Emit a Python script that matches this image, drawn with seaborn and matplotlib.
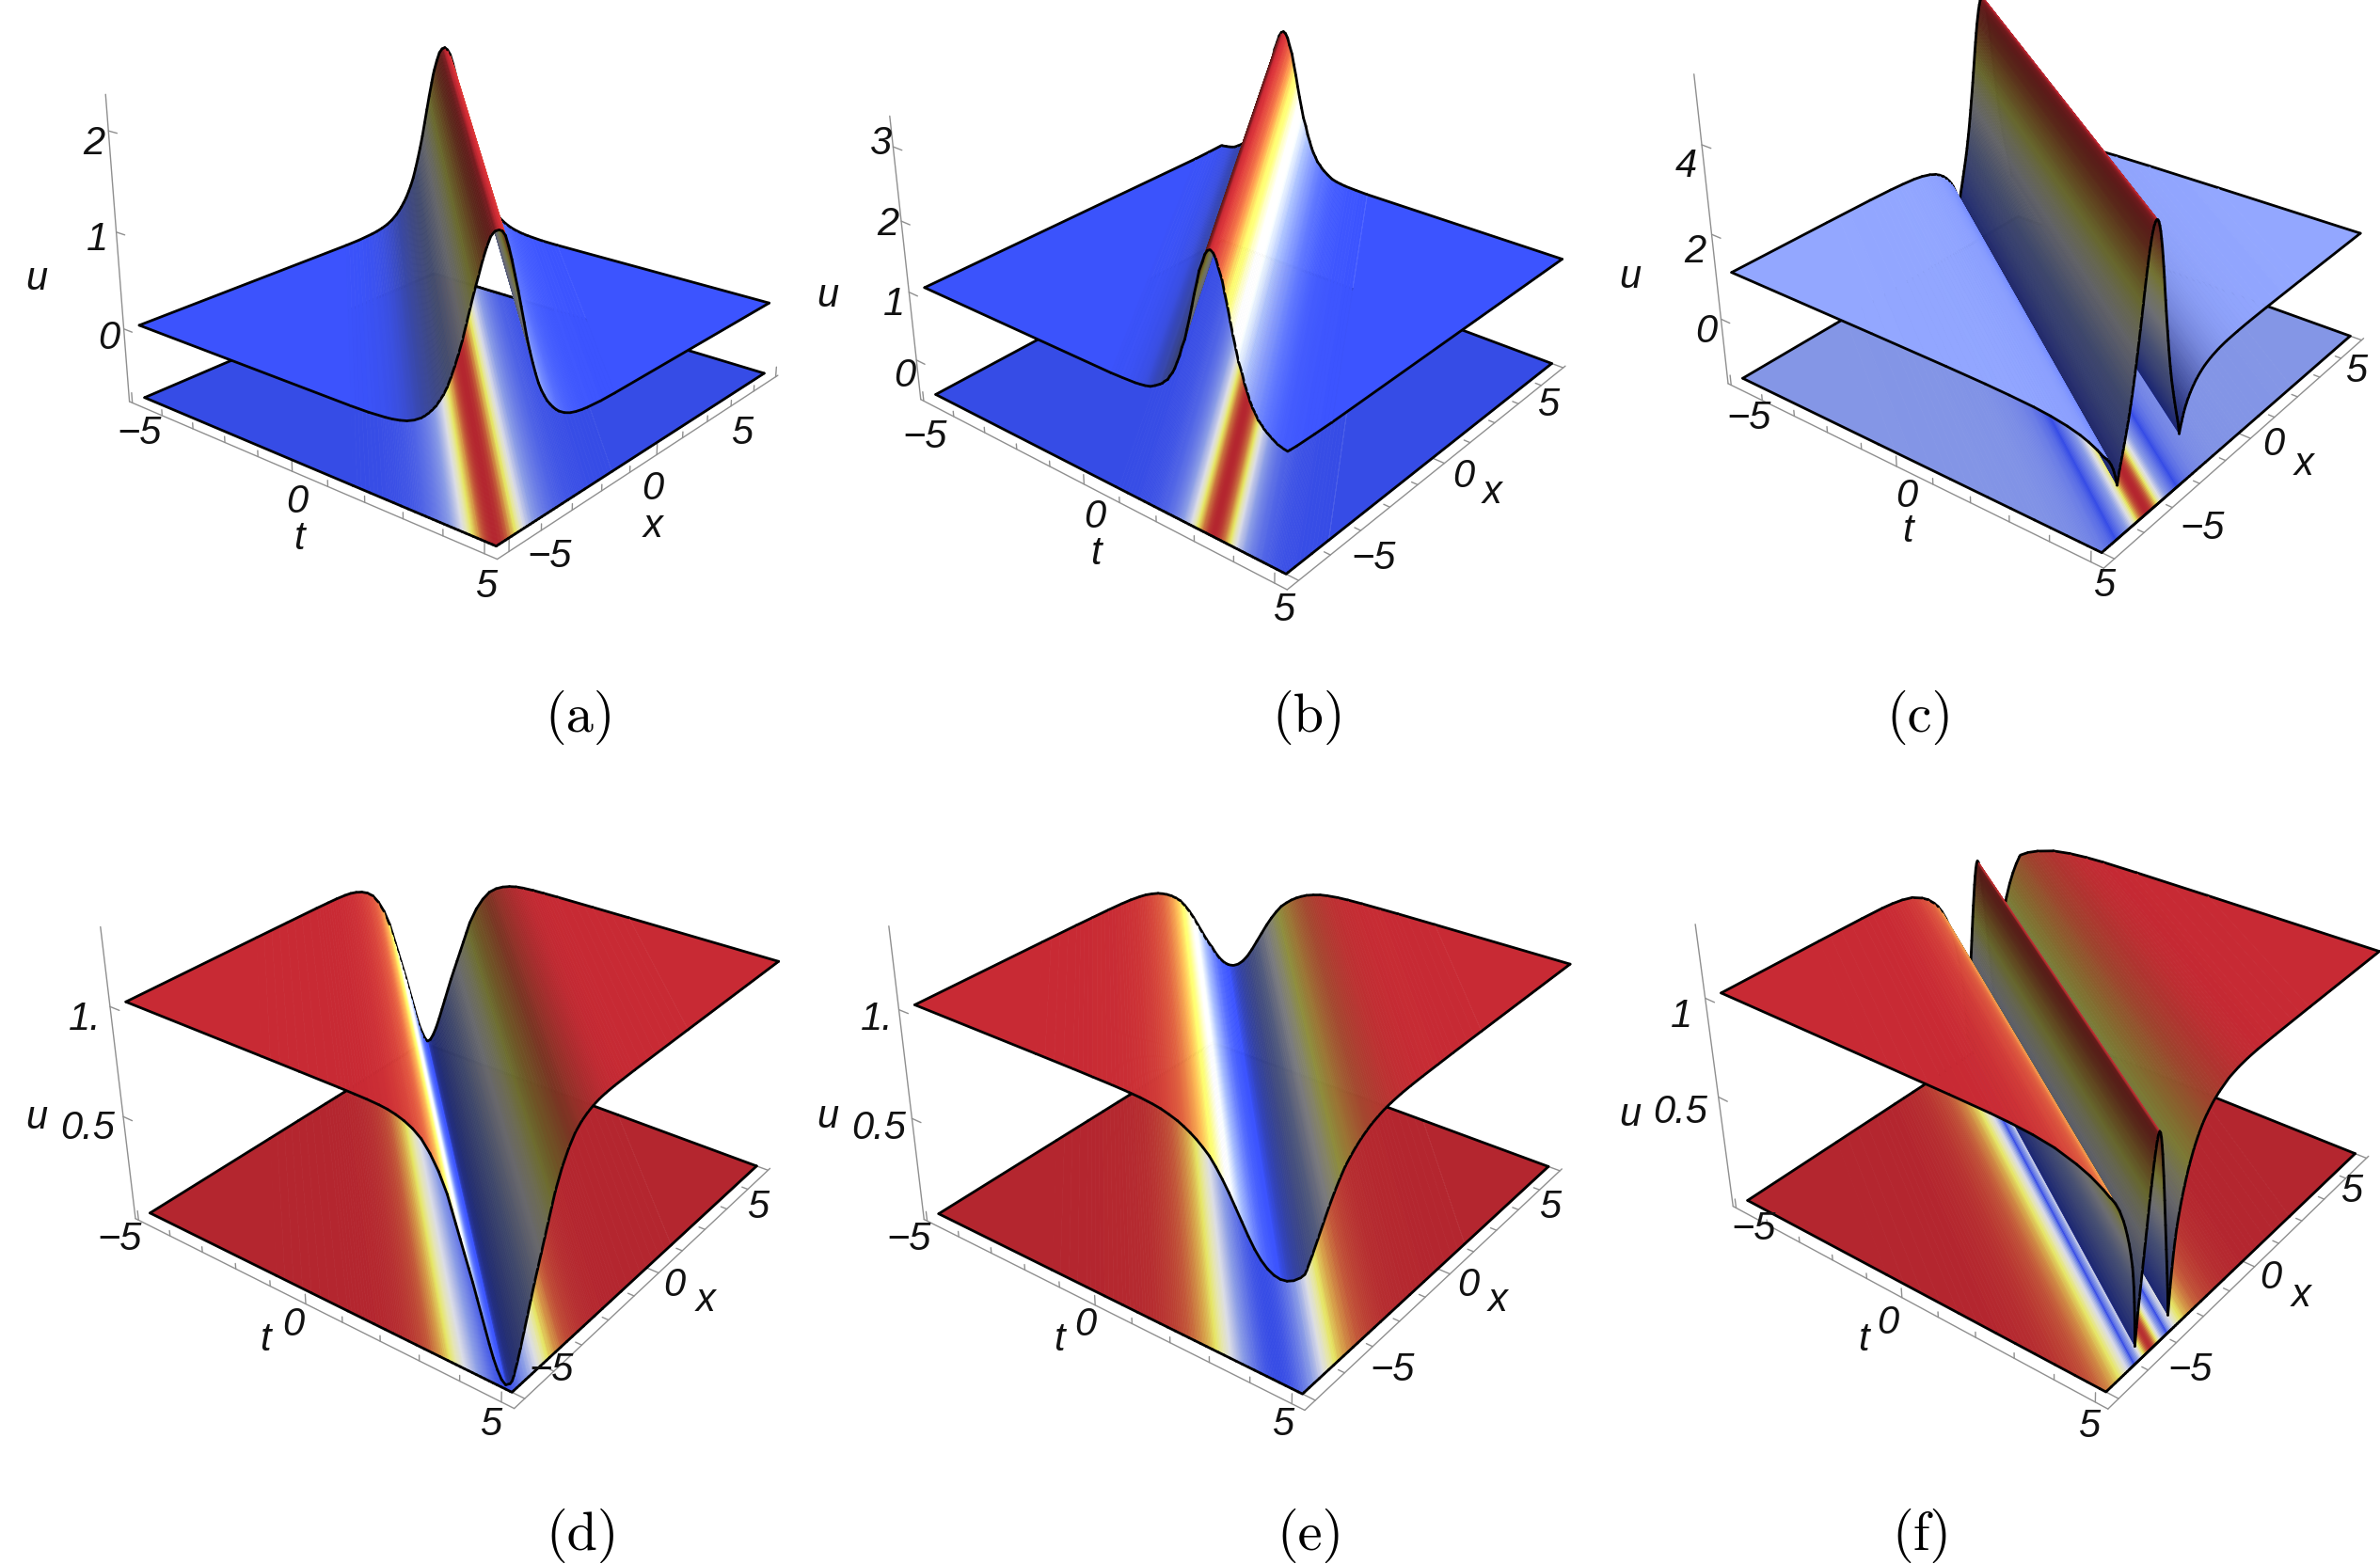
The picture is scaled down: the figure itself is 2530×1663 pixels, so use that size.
import numpy as np
import matplotlib
matplotlib.use('Agg')
import matplotlib.pyplot as plt
import seaborn as sns
from mpl_toolkits.mplot3d.art3d import Poly3DCollection

# half profiles: distance from the crest / trough, height
xiA = [0, .09, .18, .27, .36, .45, .55, .64, .73, .82, .91, 1.0, 1.09, 1.18, 1.27, 1.36, 1.45, 1.55, 1.64, 1.73, 1.82, 2.0, 2.18, 2.36, 2.55, 2.73, 3.18, 3.64, 20]
uA = [2.0, 1.98, 1.93, 1.83, 1.71, 1.57, 1.42, 1.27, 1.12, .97, .84, .72, .61, .51, .43, .365, .304, .252, .21, .174, .142, .096, .064, .044, .029, .02, .007, .003, 0]

xiB = [0, .064, .13, .19, .27, .33, .40, .46, .52, .59, .65, .73, .79, .86, .92, .98, 1.05, 1.11, 1.19, 1.25, 1.32, 1.44, 1.57, 1.71, 1.84, 1.97, 2.3, 2.63, 20]
uB = [3.1, 3.08, 3.02, 2.92, 2.80, 2.65, 2.49, 2.33, 2.18, 2.02, 1.88, 1.76, 1.64, 1.54, 1.45, 1.38, 1.32, 1.26, 1.22, 1.18, 1.15, 1.105, 1.063, 1.042, 1.03, 1.02, 1.01, 1.003, 1.0]

xiC = [0, .05, .1, .15, .2, .25, .3, .35, .4, .45, .5, .55, .6, .65, .7, .75, .8, .85, .9, .95, 1.0, 1.05, 1.1, 1.15, 1.2, 1.25, 1.3, 1.35, 1.4, 1.45, 1.5,
       1.55, 1.6, 1.65, 1.7, 1.8, 1.9, 2.0, 2.15, 2.3, 2.5, 2.7, 3, 3.4, 3.8, 4.4, 5, 6, 8, 20]
uC = [4.65, 4.63, 4.58, 4.49, 4.37, 4.21, 4.04, 3.83, 3.61, 3.38, 3.12, 2.88, 2.64, 2.41, 2.19, 1.97, 1.76, 1.56, 1.37, 1.20, 1.03, .88, .74, .60, .47, .34, .21, .09, -.03, -.17, -.35,
      -.22, -.11, -.01, .08, .22, .33, .42, .53, .62, .71, .78, .85, .91, .945, .97, .985, .995, 1, 1]

xiD = [0, .1, .2, .3, .4, .5, .6, .7, .8, .9, 1.0, 1.1, 1.2, 1.3, 1.4, 1.6, 1.8, 2.0, 2.2, 2.4, 2.6, 2.8, 3.0, 3.3, 3.6, 4, 5, 6, 20]
uD = [.02, .035, .07, .115, .17, .23, .29, .35, .41, .465, .52, .575, .63, .685, .74, .82, .88, .925, .952, .97, .982, .99, .994, .997, .998, .999, .9995, .9998, 1.0]

xiE = [0, .15, .3, .45, .6, .75, .9, 1.05, 1.2, 1.35, 1.5, 1.65, 1.8, 1.95, 2.1, 2.25, 2.4, 2.6, 2.8, 3.0, 3.3, 3.6, 4, 4.5, 5, 6, 20]
uE = [.47, .475, .49, .515, .55, .595, .645, .695, .745, .79, .83, .865, .89, .912, .93, .945, .958, .97, .98, .986, .992, .995, .997, .998, .999, .9995, 1]

xiF = [0, .05, .1, .15, .2, .25, .3, .35, .4, .45, .5, .55, .6, .65, .7, .75, .8, .85,
       .9, .95, 1.0, 1.05, 1.1, 1.2, 1.3, 1.4, 1.5, 1.6, 1.8, 2, 2.2, 2.4, 2.7, 3, 3.5, 4, 4.5, 5, 6, 8, 20]
uF = [.98, .97, .945, .905, .86, .805, .75, .69, .625, .56, .495, .43, .365, .30, .235, .17, .095, 0,
      .14, .24, .32, .38, .43, .50, .56, .61, .655, .695, .76, .81, .85, .88, .915, .94, .97, .985, .993, .997, .999, 1, 1]

# ridge direction (u depends on t + slope*x) and position of the crest
slopes = [.96, .62, 1.4, .97, .89, 1.47]
offsets = [.2, .1, .16, 0, 0, -.1]

uRanges = [(0, 2.0), (1, 3.1), (-.35, 4.65), (.02, 1), (.47, 1), (0, 1)]
zLimits = [(-.78, 2.35), (-.6, 3.4), (-1.6, 5.5), (0, 1.34), (0, 1.36), (-.1, 1.35)]
zTicks = [[0, 1, 2], [0, 1, 2, 3], [0, 2, 4], [.5, 1], [.5, 1], [.5, 1]]

# panel layout in picture pixels: centre of the box, axes size, height of the box, view angles
centers = [(478, 268), (1317, 275), (2172, 240), (479, 1134), (1319, 1134), (2177, 1126)]
axesSizes = [770, 769, 778, 772, 776, 774]
boxHeights = [.675, .655, .72, .69, .69, .685]
elevs = [20, 27, 27.5, 29.3, 29.3, 32]
azims = [-50.4, -50.6, -52.5, -53, -53, -52.5]

captions = ['(a)', '(b)', '(c)', '(d)', '(e)', '(f)']
captionPos = [(382, 473), (862, 473), (1265, 473), (384, 1012), (863, 1012), (1266, 1012)]

# tick label text and where it sits, on the 1568 wide view of the picture
labelsA = [('\u22125', 92, 286), ('0', 196, 331), ('t', 197, 355), ('5', 320, 387), ('\u22125', 362, 367), ('0', 430, 322), ('x', 430, 347), ('5', 489, 286),
           ('2', 62, 95), ('1', 64, 158), ('0', 72, 223), ('u', 24, 184)]
labelsB = [('\u22125', 609, 288), ('0', 721, 341), ('t', 722, 365), ('5', 846, 402), ('\u22125', 905, 368), ('0', 964, 314), ('x', 983, 325), ('5', 1020, 267),
           ('3', 580, 95), ('2', 585, 148), ('1', 589, 201), ('0', 596, 248), ('u', 545, 195)]
labelsC = [('\u22125', 1152, 276), ('0', 1256, 327), ('t', 1257, 350), ('5', 1386, 386), ('\u22125', 1451, 348), ('0', 1498, 293), ('x', 1518, 306), ('5', 1552, 245),
           ('4', 1111, 110), ('2', 1117, 166), ('0', 1124, 219), ('u', 1074, 183)]
labelsD = [('\u22125', 79, 817), ('0', 193, 873), ('t', 175, 883), ('5', 323, 939), ('\u22125', 363, 903), ('0', 444, 847), ('x', 465, 857), ('5', 499, 796),
           ('1.', 56, 672), ('0.5', 58, 744), ('u', 24, 737)]
labelsE = [('\u22125', 599, 817), ('0', 715, 873), ('t', 698, 883), ('5', 845, 939), ('\u22125', 917, 903), ('0', 967, 847), ('x', 987, 857), ('5', 1021, 796),
           ('1.', 578, 672), ('0.5', 579, 744), ('u', 545, 736)]
labelsF = [('\u22125', 1155, 810), ('0', 1244, 872), ('t', 1228, 883), ('5', 1376, 940), ('\u22125', 1443, 903), ('0', 1496, 842), ('x', 1516, 854), ('5', 1549, 785),
           ('1', 1108, 670), ('0.5', 1107, 733), ('u', 1074, 735)]

allProfiles = [(xiA, uA), (xiB, uB), (xiC, uC), (xiD, uD), (xiE, uE), (xiF, uF)]
allLabels = [labelsA, labelsB, labelsC, labelsD, labelsE, labelsF]

W, H = 2530, 1663
VIEW = W / 1568
FOCAL = .41
T_LIM = (-5.1, 5.3)
X_LIM = (-5.35, 5.1)
AXIS_GRAY = '#8f8f8f'
SUB_STEPS = 4

sns.set_style('white')
plt.rcParams['font.family'] = ['Liberation Sans', 'DejaVu Sans']

heatMap = sns.blend_palette(['#3c54ff', '#6076ff', '#8094ff', '#9bafff', '#c8d2ff', '#f4f6ff', '#ffffc8', '#ffff6e', '#eeb050', '#d8603e', '#c82a34'], n_colors=256, as_cmap=True)


def shadeFactor(s):
    # steep faces turned from the light go dark, the others get a little brighter
    if s > 0:
        return .4 + .6 * np.exp(-s / 1.3)
    return 1 + .12 * (1 - np.exp(s / 1.3))


def edgePoints(xi, slope):
    # where the line t + slope*x = xi leaves the square
    lo, hi = -5 - 5 * slope, 5 + 5 * slope
    xi = min(max(xi, lo), hi)
    if xi < 5 - 5 * slope:
        first = (xi + 5 * slope, -5)
    else:
        first = (5, (xi - 5) / slope)
    if xi < -5 + 5 * slope:
        second = (-5, (xi + 5) / slope)
    else:
        second = (xi - 5 * slope, 5)
    return first, second


def stripSides(x0, x1, u0, u1, slope):
    cornerA, cornerB = 5 - 5 * slope, -5 + 5 * slope
    f0, s0 = edgePoints(x0, slope)
    f1, s1 = edgePoints(x1, slope)
    sideOne = [(f0[0], f0[1], u0)]
    sideTwo = [(s0[0], s0[1], u0)]
    if x0 < cornerA < x1:
        sideOne.append((5, -5, u0 + (cornerA - x0) / (x1 - x0) * (u1 - u0)))
    if x0 < cornerB < x1:
        sideTwo.append((-5, 5, u0 + (cornerB - x0) / (x1 - x0) * (u1 - u0)))
    sideOne.append((f1[0], f1[1], u1))
    sideTwo.append((s1[0], s1[1], u1))
    return sideOne, sideTwo


def buildStrips(xi, u, slope):
    lo, hi = -5 - 5 * slope, 5 + 5 * slope
    rises = np.gradient(u, xi)
    strips = []
    for i in range(len(xi) - 1):
        x0, x1 = xi[i], xi[i + 1]
        if x1 <= lo or x0 >= hi:
            continue
        # every strip is one flat piece of the surface, cut finer only so its colour runs smoothly
        steps = SUB_STEPS if x1 - x0 < 3 else 1
        facets = []
        for j in range(steps):
            f0, f1 = j / steps, (j + 1) / steps
            sideOne, sideTwo = stripSides(x0 + f0 * (x1 - x0), x0 + f1 * (x1 - x0), u[i] + f0 * (u[i + 1] - u[i]), u[i] + f1 * (u[i + 1] - u[i]), slope)
            fm = (f0 + f1) / 2
            facets.append({'verts': sideOne + sideTwo[::-1], 'height': u[i] + fm * (u[i + 1] - u[i]), 'rise': rises[i] + fm * (rises[i + 1] - rises[i])})
        sideOne, sideTwo = stripSides(x0, x1, u[i], u[i + 1], slope)
        strips.append({'mid': (x0 + x1) / 2, 'base': x0, 'low': u[i], 'pitch': (u[i + 1] - u[i]) / (x1 - x0), 'facets': facets, 'one': sideOne, 'two': sideTwo})
    return strips


def drawAxes(ax, zLim, ticks, upright):
    tMin, tMax = T_LIM
    xMin, xMax = X_LIM
    zMin, zMax = zLim
    zSpan = zMax - zMin
    line = dict(color=AXIS_GRAY, lw=1, zorder=0)
    ax.plot([tMin, tMax], [xMin, xMin], [zMin, zMin], **line)
    ax.plot([tMax, tMax], [xMin, xMax], [zMin, zMin], **line)
    ax.plot([tMin, tMin], [xMin, xMin], [zMin, zMax], **line)
    for v in range(-5, 6):
        big = v % 5 == 0
        ax.plot([v, v], [xMin, xMin], [zMin, zMin + zSpan * (.035 if big else .02)], **line)
        if upright:
            ax.plot([tMax, tMax], [v, v], [zMin, zMin + zSpan * (.035 if big else .02)], **line)
        else:
            ax.plot([tMax, tMax - (.28 if big else .15)], [v, v], [zMin, zMin], **line)
    for z in ticks:
        ax.plot([tMin, tMin + .28], [xMin, xMin], [z, z], **line)


def drawPanel(idx):
    halfXi, halfU = allProfiles[idx]
    slope, offset = slopes[idx], offsets[idx]
    uMin, uMax = uRanges[idx]
    zLim = zLimits[idx]
    cx, cy = centers[idx]
    size = axesSizes[idx]
    boxZ = boxHeights[idx]
    elev, azim = elevs[idx], azims[idx]

    rect = [(cx - size / 2) / W, 1 - (cy + size / 2) / H, size / W, size / H]
    ax = fig.add_axes(rect, projection='3d', computed_zorder=False)
    ax.set_axis_off()
    ax.view_init(elev=elev, azim=azim)
    ax.set_proj_type('persp', focal_length=FOCAL)
    ax.set_box_aspect((1, 1, boxZ))

    xi = np.r_[-np.array(halfXi)[:0:-1], halfXi] + offset
    u = np.r_[np.array(halfU)[:0:-1], halfU]
    strips = buildStrips(xi, u, slope)

    drawAxes(ax, zLim, zTicks[idx], idx == 0)

    # density plane underneath
    for st in strips:
        polys = [[(p[0], p[1], zLim[0]) for p in fc['verts']] for fc in st['facets']]
        cols = [np.array(heatMap((fc['height'] - uMin) / (uMax - uMin)))[:3] * .9 for fc in st['facets']]
        ax.add_collection3d(Poly3DCollection(polys, facecolors=cols, edgecolors=cols, linewidths=.5, zorder=1), autolim=False)
        for side in (st['one'], st['two']):
            ax.plot([p[0] for p in side], [p[1] for p in side], [zLim[0]] * len(side), color='black', lw=2, zorder=2, solid_capstyle='round')

    # painter's order: strips furthest from the camera (measured across the ridge) go first
    zSpan = zLim[1] - zLim[0]
    boxSide = 1.905 / np.linalg.norm((1, 1, boxZ))
    reach = 10 * FOCAL / boxSide * (T_LIM[1] - T_LIM[0])
    camT = sum(T_LIM) / 2 + reach * np.cos(np.radians(elev)) * np.cos(np.radians(azim))
    camX = sum(X_LIM) / 2 + reach * np.cos(np.radians(elev)) * np.sin(np.radians(azim))
    camZ = sum(zLim) / 2 + reach * np.sin(np.radians(elev)) * zSpan / (boxZ * (T_LIM[1] - T_LIM[0]))
    camXi = camT + slope * camX
    strips.sort(key=lambda st: -abs(st['mid'] - camXi))

    order = 3
    for st in strips:
        polys = [fc['verts'] for fc in st['facets']]
        # a strip seen from underneath is dark whatever its slope
        under = camZ - st['low'] - st['pitch'] * (camXi - st['base']) < 0
        cols = []
        for fc in st['facets']:
            factor = .45 if under else shadeFactor(fc['rise'] * 10 / zSpan)
            cols.append(np.clip(np.array(heatMap((fc['height'] - uMin) / (uMax - uMin)))[:3] * factor, 0, 1))
        ax.add_collection3d(Poly3DCollection(polys, facecolors=cols, edgecolors=cols, linewidths=.5, zorder=order), autolim=False)
        for side in (st['one'], st['two']):
            ax.plot([p[0] for p in side], [p[1] for p in side], [p[2] for p in side], color='black', lw=2, zorder=order + 1, solid_capstyle='round')
        order += 2

    ax.set_xlim(*T_LIM)
    ax.set_ylim(*X_LIM)
    ax.set_zlim(*zLim)

    for text, px, py in allLabels[idx]:
        fig.text(px * VIEW / W, 1 - py * VIEW / H, text, fontsize=30, style='italic', ha='center', va='center', color='#111111')
    capX, capY = captionPos[idx]
    fig.text(capX * VIEW / W, 1 - capY * VIEW / H, captions[idx], fontsize=42, family='cmr10', ha='center', va='center', color='black')


fig = plt.figure(figsize=(W / 100, H / 100), dpi=100, facecolor='white')
for k in range(6):
    drawPanel(k)
fig.savefig('out.png', dpi=100)
